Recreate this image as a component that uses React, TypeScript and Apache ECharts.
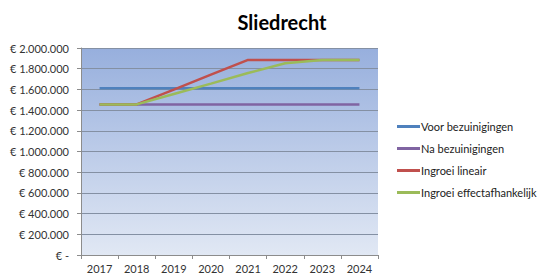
import React, { useEffect, useRef } from "react";
import * as echarts from "echarts";

const years = ["2017", "2018", "2019", "2020", "2021", "2022", "2023", "2024"];
const voorBezuinigingen = [1612000, 1612000, 1612000, 1612000, 1612000, 1612000, 1612000, 1612000];
const naBezuinigingen = [1455000, 1455000, 1455000, 1455000, 1455000, 1455000, 1455000, 1455000];
const ingroeiLineair = [1455000, 1455000, 1598000, 1742000, 1885000, 1885000, 1885000, 1885000];
const ingroeiEffect = [1455000, 1455000, 1556000, 1656000, 1758000, 1852000, 1885000, 1885000];

const seriesNames = ["Voor bezuinigingen", "Na bezuinigingen", "Ingroei lineair", "Ingroei effectafhankelijk"];
const colors = ["#4f81bd", "#8064a2", "#c0504d", "#9bbb59"];

function fmt(v: number): string {
  if (v === 0) return "€ -";
  const s = Math.round(v).toString().replace(/\B(?=(\d{3})+(?!\d))/g, ".");
  return "€ " + s;
}

export default function App() {
  const ref = useRef<HTMLDivElement>(null);
  useEffect(() => {
    if (!ref.current) return;
    const chart = echarts.init(ref.current, null, { renderer: "svg" });
    const font = "Lato, sans-serif";
    const datasets = [voorBezuinigingen, naBezuinigingen, ingroeiLineair, ingroeiEffect];
    chart.setOption({
      animation: false,
      title: {
        text: "Sliedrecht",
        left: 277,
        textAlign: "center",
        top: 7,
        textStyle: { fontFamily: font, fontSize: 20, fontWeight: "bold", color: "#000" },
      },
      grid: {
        left: 81,
        right: 166,
        top: 48,
        bottom: 23,
        show: true,
        borderWidth: 0,
        backgroundColor: new echarts.graphic.LinearGradient(0, 0, 0, 1, [
          { offset: 0, color: "#97afdd" },
          { offset: 1, color: "#e1e8f4" },
        ]),
      },
      legend: {
        orient: "vertical",
        left: 392,
        top: 116,
        itemWidth: 23,
        itemHeight: 3,
        itemGap: 11,
        icon: "rect",
        textStyle: { fontFamily: font, fontSize: 11, color: "#222", padding: [0, 0, 0, -4] },
        data: seriesNames,
      },
      xAxis: {
        type: "category",
        data: years,
        boundaryGap: true,
        axisLine: { lineStyle: { color: "#8c8c8c", width: 1 } },
        axisTick: { show: true, length: 4, lineStyle: { color: "#8c8c8c" } },
        axisLabel: { fontFamily: font, fontSize: 11, color: "#333", margin: 8 },
      },
      yAxis: {
        type: "value",
        min: 0,
        max: 2000000,
        interval: 200000,
        axisLine: { show: true, lineStyle: { color: "#8c8c8c", width: 1 } },
        axisTick: { show: true, length: 4, lineStyle: { color: "#8c8c8c" } },
        splitLine: { lineStyle: { color: "#8490a3", width: 1 } },
        axisLabel: {
          fontFamily: font,
          fontSize: 11,
          color: "#333",
          margin: 12,
          formatter: (v: number) => fmt(v),
        },
      },
      series: seriesNames.map((name, i) => ({
        name,
        type: "line",
        data: datasets[i],
        symbol: "none",
        color: colors[i],
        lineStyle: { width: 2.5, color: colors[i] },
      })),
    });
    return () => chart.dispose();
  }, []);
  return <div ref={ref} style={{ width: 544, height: 278, position: "absolute", left: 0, top: 0 }} />;
}
